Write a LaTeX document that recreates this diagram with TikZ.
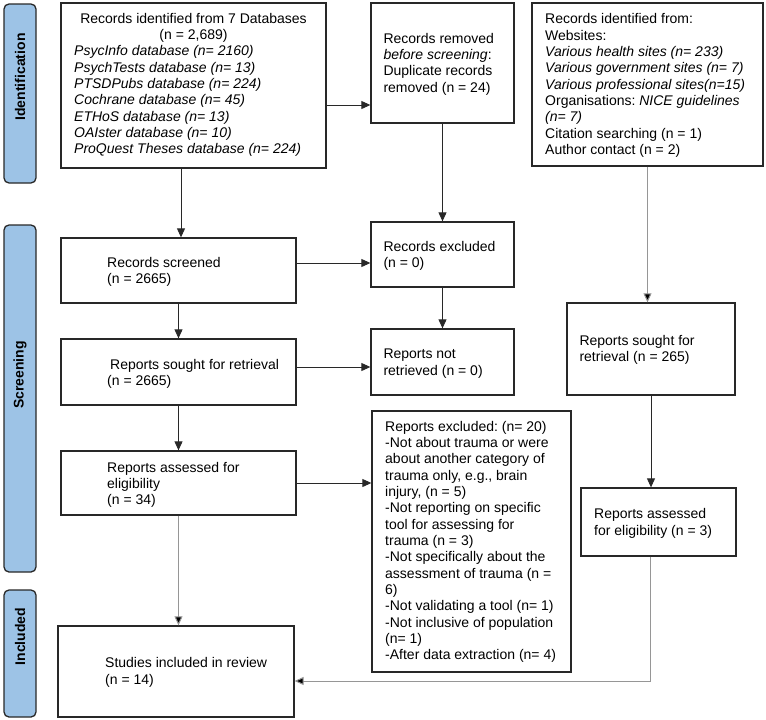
\documentclass[tikz,border=0pt]{standalone}
\usepackage{fontspec}
\setmainfont{Liberation Sans}
\usetikzlibrary{arrows.meta,calc}
\frenchspacing
\definecolor{sidefill}{RGB}{157,195,230}
\definecolor{lineclr}{RGB}{40,40,40}
\definecolor{softline}{RGB}{150,150,150}
\tikzset{
  box/.style={draw=lineclr, line width=1.3pt, rectangle, inner sep=0pt, fill=white},
  side/.style={draw=lineclr, line width=1.3pt, rectangle, rounded corners=5pt, fill=sidefill, inner sep=0pt, minimum width=32pt},
  sidetxt/.style={rotate=90, inner sep=0pt, font=\fontsize{14}{16.35}\selectfont\bfseries},
  txt/.style={inner sep=0pt, anchor=base west, align=left, font=\fontsize{14}{16.35}\selectfont\frenchspacing},
  ctxt/.style={inner sep=0pt, anchor=base, align=center, font=\fontsize{14}{16.35}\selectfont\frenchspacing},
  arr/.style={draw=lineclr, line width=0.9pt, -{Triangle[length=9pt,width=8pt]}},
  softarr/.style={draw=softline, line width=1pt, -{Triangle[length=9pt,width=8pt,fill=black]}},
}
\begin{document}
\begin{tikzpicture}[x=1pt,y=-1pt]
\useasboundingbox (0,0) rectangle (766,720);
% side labels
\node[side, minimum height=179pt] (sid) at (20,93.5) {};
\node[sidetxt] (sidt) at (20,77) {Identification};
\node[side, minimum height=347pt] (sscr) at (20,398.5) {};
\node[sidetxt] (sscrt) at (20,375) {Screening};
\node[side, minimum height=127pt] (sinc) at (20,653.5) {};
\node[sidetxt] (sinct) at (20,636.5) {Included};
% boxes
\node[box, minimum width=265pt, minimum height=165pt] (A) at (193.5,85.5) {};
\node[box, minimum width=143pt, minimum height=120pt] (B) at (442.5,63) {};
\node[box, minimum width=231pt, minimum height=163pt] (C) at (647.5,84.5) {};
\node[box, minimum width=235pt, minimum height=65pt] (D) at (178.5,270.5) {};
\node[box, minimum width=143pt, minimum height=65pt] (E) at (442.5,254.5) {};
\node[box, minimum width=235pt, minimum height=66pt] (F) at (178.5,372) {};
\node[box, minimum width=143pt, minimum height=66pt] (G) at (442.5,362) {};
\node[box, minimum width=235pt, minimum height=64pt] (H) at (178.5,483) {};
\node[box, minimum width=199pt, minimum height=261pt] (I) at (471.5,541.5) {};
\node[box, minimum width=168pt, minimum height=92pt] (J) at (651,349) {};
\node[box, minimum width=155pt, minimum height=68pt] (K) at (658.5,522) {};
\node[box, minimum width=236pt, minimum height=91pt] (L) at (176,671.5) {};
% texts (anchored at the baseline of their last line)
\node[ctxt] (At1) at (193.5,39.65) {Records identified from 7 Databases\\(n = 2,689)};
\node[txt] (At2) at (74,153.9) {\itshape PsycInfo database (n= 2160)\\\itshape PsychTests database (n= 13)\\\itshape PTSDPubs database (n= 224)\\\itshape Cochrane database (n= 45)\\\itshape ETHoS database (n= 13)\\\itshape OAIster database (n= 10)\\\itshape ProQuest Theses database (n= 224)};
\node[txt] (Bt) at (383.3,92.05) {Records removed\\\textit{before screening}:\\Duplicate records\\removed (n = 24)};
\node[txt] (Ct) at (545,154.5) {Records identified from:\\Websites:\\\textit{Various health sites (n= 233)}\\\textit{Various government sites (n= 7)}\\\textit{Various professional sites(n=15)}\\Organisations: \textit{NICE guidelines}\\\textit{(n= 7)}\\Citation searching (n = 1)\\Author contact (n = 2)};
\node[txt] (Dt) at (107,283.35) {Records screened\\(n = 2665)};
\node[txt] (Et) at (383.3,267.35) {Records excluded\\(n = 0)};
\node[txt] (Ft) at (107,385.65) {\hspace*{3pt}Reports sought for retrieval\\(n = 2665)};
\node[txt] (Gt) at (383.3,375.05) {Reports not\\retrieved (n = 0)};
\node[txt] (Ht) at (107,504.7) {Reports assessed for\\eligibility\\(n = 34)};
\node[txt] (It) at (385,659.9) {Reports excluded: (n= 20)\\-Not about trauma or were\\about another category of\\trauma only, e.g., brain\\injury, (n = 5)\\-Not reporting on specific\\tool for assessing for\\trauma (n = 3)\\-Not specifically about the\\assessment of trauma (n =\\6)\\-Not validating a tool (n= 1)\\-Not inclusive of population\\(n= 1)\\-After data extraction (n= 4)};
\node[txt] (Jt) at (579.3,361.85) {Reports sought for\\retrieval (n = 265)};
\node[txt] (Kt) at (594,535.05) {Reports assessed\\for eligibility (n = 3)};
\node[txt] (Lt) at (105,684.15) {Studies included in review\\(n = 14)};
% connectors
\draw[arr] ([yshift=-19.5pt]A.east) -- ([yshift=-19.5pt]A.east -| B.west);
\draw[arr] ([xshift=-12.5pt]A.south) -- ([xshift=-12.5pt]A.south |- D.north);
\draw[arr] (B.south) -- (E.north);
\draw[arr] ([yshift=7.5pt]D.east) -- ([yshift=7.5pt]D.east -| E.west);
\draw[arr] (D.south) -- (F.north);
\draw[arr] (E.south) -- (G.north);
\draw[arr] ([yshift=5pt]F.east) -- ([yshift=5pt]F.east -| G.west);
\draw[arr] (F.south) -- (H.north);
\draw[arr] (H.east) -- (H.east -| I.west);
\draw[softarr] (C.south) -- (C.south |- J.north);
\draw[arr] (J.south) -- (J.south |- K.north);
\draw[softarr] (H.south) -- (H.south |- L.north);
\draw[softarr] ([xshift=-8.5pt]K.south) |- ([yshift=-9.5pt]L.east);
\end{tikzpicture}
\end{document}
